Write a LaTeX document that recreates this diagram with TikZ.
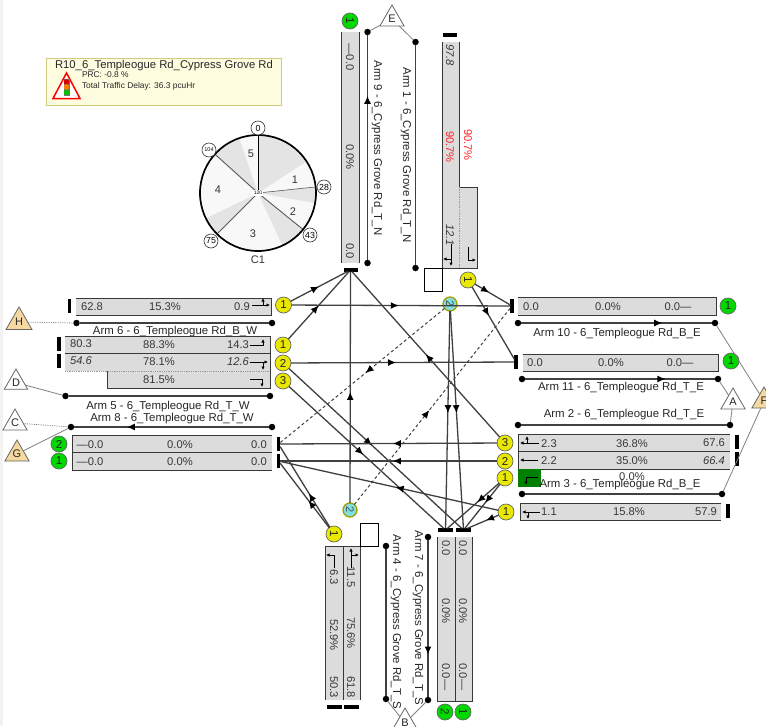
\documentclass[tikz,border=0pt]{standalone}
\usepackage{fontspec}
\setmainfont{Liberation Sans}
\usetikzlibrary{arrows.meta,decorations.markings,shapes.geometric}
\definecolor{ink}{HTML}{383838}
\definecolor{wire}{HTML}{404040}
\definecolor{lane}{HTML}{DCDCDC}
\definecolor{yel}{HTML}{E8E800}
\definecolor{grn}{HTML}{00D800}
\definecolor{cya}{HTML}{80E0E0}
\definecolor{tan}{HTML}{F5D9A0}
\definecolor{ltp}{HTML}{F8F8F8}
\definecolor{gyp}{HTML}{E4E4E4}
\tikzset{
 x=1pt,y=-1pt,
 tx/.style={inner sep=0,outer sep=0,text=ink,font=\fontsize{11.2}{12}\selectfont},
 txi/.style={tx,font=\fontsize{11.2}{12}\selectfont\itshape},
 txd/.style={tx,rotate=-90},
 txdi/.style={txi,rotate=-90},
 lbl/.style={inner sep=0,outer sep=0,text=black!85,font=\fontsize{11.4}{12}\selectfont},
 lbld/.style={lbl,rotate=-90},
 redt/.style={txd,text=red!85!white},
 edge/.style={draw=ink,line width=1pt},
 vbar/.style={fill=black,inner sep=0,outer sep=0,minimum width=3.2pt,minimum height=14pt},
 hbar/.style={fill=black,inner sep=0,outer sep=0,minimum width=14pt,minimum height=3.2pt},
 sig/.style={circle,draw=black!60,line width=.7pt,fill=#1,inner sep=0,outer sep=0,minimum size=16pt,font=\fontsize{11.5}{12}\selectfont,text=black!85},
 ysig/.style={sig=yel},
 gsig/.style={sig=grn},
 csig/.style={circle,draw=yel!70!black,line width=1.3pt,fill=cya,inner sep=0,outer sep=0,minimum size=14pt,font=\fontsize{11}{12}\selectfont,text=black!70},
 dotn/.style={circle,fill=black,inner sep=0,outer sep=0,minimum size=6.5pt},
 tri/.style={regular polygon,regular polygon sides=3,draw=black!60,line width=.8pt,inner sep=0,outer sep=0,minimum size=28pt,font=\fontsize{11}{12}\selectfont,text=black!85},
 wtri/.style={tri,fill=white},
 ttri/.style={tri,fill=tan},
 road/.style={draw=wire,line width=1.3pt},
 feed/.style={draw=black!50,line width=.8pt},
 conn/.style={draw=wire,line width=1.3pt},
 dconn/.style={conn,dash pattern=on 3pt off 2.5pt,line width=1pt},
 ar/.style={postaction={decorate,decoration={markings,mark=at position #1 with {\arrow[black,solid]{Latex[length=8pt,width=7pt]}}}}},
 tk/.style={draw=black,line width=.7pt,-{Latex[length=3.5pt,width=3.5pt]}},
 pcirc/.style={circle,draw=black!80,fill=white,line width=.6pt,inner sep=0,outer sep=0,minimum size=14pt,font=\fontsize{8.8}{10}\selectfont},
 pnum/.style={inner sep=0,outer sep=0,font=\fontsize{11}{12}\selectfont,text=black!80}
}
\begin{document}
\begin{tikzpicture}
\useasboundingbox (0,0) rectangle (766,726);
\clip (0,0) rectangle (766,726);
\fill[white] (0,0) rectangle (766,726);
\fill[black!5] (0,0) rectangle (3,726);

% info box
\draw[draw=black!35!yellow!60!white,fill=yellow!12,line width=.8pt] (46,58) rectangle (281,105);
\node[lbl,font=\fontsize{11.3}{13}\selectfont] (title) at (164,66) {R10\_6\_Templeogue Rd\_Cypress Grove Rd};
\node[lbl,anchor=west,font=\fontsize{8.4}{10}\selectfont] (prc) at (82,75) {PRC: -0.8 \%};
\node[lbl,anchor=west,font=\fontsize{8.4}{10}\selectfont] (delay) at (82,86.5) {Total Traffic Delay: 36.3 pcuHr};
\draw[red,line width=1.5pt,fill=white,line join=miter] (66.5,73) -- (80,98.5) -- (53,98.5) -- cycle;
\fill[black!55] (63.5,79) rectangle (69.5,96);
\fill[red!85!black] (66.5,82) circle (2.8pt);
\fill[orange] (66.5,87) circle (2.8pt);
\fill[green!75!black] (66.5,92.5) circle (2.8pt);

% phase clock
\def\Cx{258}\def\Cy{193}\def\Rr{58}
\fill[ltp] (\Cx,\Cy) circle (\Rr);
\foreach \a/\b in {0/57,84/100,129/155,225/244,312/341}{
 \fill[gyp] (\Cx,\Cy) -- plot[domain=\a:\b,samples=16] ({\Cx+\Rr*sin(\x)},{\Cy-\Rr*cos(\x)}) -- cycle;
}
\draw[black,line width=1pt] (\Cx,\Cy) -- ({\Cx+\Rr*sin(0)},{\Cy-\Rr*cos(0)});
\foreach \a/\w in {84/.6,129/.9,225/.9,312/.9}{
 \draw[black!65,line width=\w pt] (\Cx,\Cy) -- ({\Cx+\Rr*sin(\a)},{\Cy-\Rr*cos(\a)});
}
\draw[black,line width=1.7pt] (\Cx,\Cy) circle (\Rr);
\node[inner sep=1pt,fill=white,font=\fontsize{5}{6}\selectfont] (c120) at (\Cx,\Cy) {120};
\node[pcirc] (p0) at (258,128) {0};
\node[pcirc] (p28) at (324,187) {28};
\node[pcirc] (p43) at (310,235) {43};
\node[pcirc] (p75) at (211,241) {75};
\node[pcirc,font=\fontsize{5.5}{6}\selectfont] (p104) at (209,150) {104};
\node[pnum] (n5) at (251,154) {5};
\node[pnum] (n1) at (295,180) {1};
\node[pnum] (n2) at (293,212) {2};
\node[pnum] (n3) at (253,234) {3};
\node[pnum] (n4) at (218,190) {4};
\node[pnum] (c1) at (258,260) {C1};

% Arm 6 (west)
\fill[lane] (76,298) rectangle (271,315);
\draw[edge] (76,298) -- (271,298) -- (271,315) -- (76,315);
\node[vbar] (b6) at (69.5,306) {};
\node[tx] (a6a) at (92,307) {62.8};
\node[tx] (a6b) at (165,307) {15.3\%};
\node[tx] (a6c) at (242,307) {0.9};
\draw[tk] (252,305) -- (270,305);
\draw[tk] (263,305) -- (263,298);
\node[ysig] (w1a) at (283.5,305) {1};
\node[dotn] (d6l) at (76.5,323) {};
\node[dotn] (d6r) at (272,323) {};
\draw[road] (d6l) -- (d6r);
\node[lbl] (l6) at (175,332) {Arm 6 - 6\_Templeogue Rd\_B\_W};
\node[ttri,minimum size=30pt] (H) at (19,322) {H};
\draw[feed,densely dotted] (H) -- (d6l);

% Arm 5 (west)
\fill[lane] (65,336) rectangle (270,371);
\fill[lane] (107,371) rectangle (270,388);
\draw[edge] (65,336) -- (270,336) -- (270,388) -- (107,388) -- (107,371);
\draw[edge] (65,353) -- (270,353);
\draw[black!40,densely dotted,line width=.8pt] (65,371) -- (270,371);
\node[vbar] (b5a) at (59,344) {};
\node[vbar] (b5b) at (59,361) {};
\node[tx] (a5a) at (81,344) {80.3};
\node[tx] (a5b) at (159,345) {88.3\%};
\node[tx] (a5c) at (238,345) {14.3};
\node[txi] (a5d) at (81,361) {54.6};
\node[tx] (a5e) at (159,362) {78.1\%};
\node[txi] (a5f) at (238,362) {12.6};
\node[tx] (a5g) at (159,380) {81.5\%};
\draw[tk] (250,345) -- (263,345) -- (263,339);
\draw[tk] (250,362) -- (268,362);
\draw[tk] (263,362) -- (263,370);
\draw[tk] (250,379) -- (262,379) -- (262,387);
\node[ysig] (w1b) at (283,345) {1};
\node[ysig] (w2) at (283,363) {2};
\node[ysig] (w3) at (283,381) {3};
\node[dotn] (d5l) at (65.5,396) {};
\node[dotn] (d5r) at (270,396) {};
\draw[road] (d5l) -- (d5r);
\node[wtri,minimum size=27pt] (D) at (16,382.5) {D};
\draw[feed] (D) -- (d5l);
\node[lbl] (l5) at (168,407) {Arm 5 - 6\_Templeogue Rd\_T\_W};

% Arm 8 (west)
\node[lbl] (l8) at (172,419) {Arm 8 - 6\_Templeogue Rd\_T\_W};
\node[dotn] (d8l) at (71,427) {};
\node[dotn] (d8r) at (272,427) {};
\draw[road,ar=.73] (d8r) -- (d8l);
\node[wtri] (C) at (15,423) {C};
\node[ttri] (G) at (17,454) {G};
\draw[feed,densely dotted] (C) -- (d8l);
\draw[feed] (G) -- (d8l);
\fill[lane] (72,435) rectangle (272,470);
\draw[edge] (272,435) -- (72,435) -- (72,470) -- (272,470);
\draw[edge] (72,452) -- (272,452);
\node[gsig] (g2) at (59,444) {2};
\node[gsig] (g1) at (59,461) {1};
\node[tx] (a8a) at (90,444.5) {—0.0};
\node[tx] (a8b) at (180,444.5) {0.0\%};
\node[tx] (a8c) at (259,444.5) {0.0};
\node[tx] (a8d) at (90,461.5) {—0.0};
\node[tx] (a8e) at (180,461.5) {0.0\%};
\node[tx] (a8f) at (259,461.5) {0.0};
\node[vbar] (b8a) at (278.5,444) {};
\node[vbar] (b8b) at (278.5,461) {};

% Arm 9 (north)
\fill[lane] (341,32) rectangle (359,263);
\draw[edge] (341,32) -- (341,263);
\draw[edge] (359,32) -- (359,263);
\node[gsig,rotate=-90] (gn) at (350,21) {1};
\node[txd] (a9a) at (350,57) {—0.0};
\node[txd] (a9b) at (350,157) {0.0\%};
\node[txd] (a9c) at (350,251) {0.0};
\node[hbar] (bn) at (350.5,270) {};
\node[dotn] (d9t) at (367.5,32) {};
\node[dotn] (d9b) at (367.5,263) {};
\draw[road,ar=.73] (d9b) -- (d9t);
\node[lbld] (l9) at (377,148) {Arm 9 - 6\_Cypress Grove Rd\_T\_N};
\node[wtri] (E) at (392,19) {E};
\node[dotn] (d1t) at (415.5,42) {};
\node[dotn] (d1b) at (415.5,268) {};
\draw[road] (d1t) -- (d1b);
\draw[feed] (E) -- (d9t);
\draw[feed] (E) -- (d1t);
\node[lbld] (l1) at (406,155) {Arm 1 - 6\_Cypress Grove Rd\_T\_N};

% Arm 1 (north)
\fill[lane] (442,42) rectangle (459,268);
\fill[lane] (459,187) rectangle (477,268);
\draw[edge] (442,42) -- (442,268) -- (477,268) -- (477,187) -- (459,187) -- (459,42);
\draw[black!40,densely dotted,line width=.7pt] (459,187) -- (459,268);
\node[hbar] (b1) at (450,35) {};
\node[txdi] (a1a) at (450,55) {97.8};
\node[redt] (a1b) at (450,147) {90.7\%};
\node[redt] (a1c) at (468,145) {90.7\%};
\node[txdi] (a1d) at (450,235) {12.1};
\draw[tk] (451,244) -- (451,266);
\draw[tk] (451,259) -- (443,259);
\draw[tk] (468,247) -- (468,260) -- (476,260);
\draw[draw=black,line width=.9pt] (424,268) rectangle (442,291);
\node[ysig,rotate=-90] (n1) at (468,280) {1};
\node[csig,rotate=-90] (cn) at (450,304) {2};

% Arm 10, 11 (east)
\fill[lane] (518,297) rectangle (716,315);
\draw[edge] (518,297) -- (716,297) -- (716,315) -- (518,315);
\node[vbar] (b10) at (512,306) {};
\node[gsig] (g10) at (728,306) {1};
\node[tx] (a10a) at (531,306.5) {0.0};
\node[tx] (a10b) at (608,306.5) {0.0\%};
\node[tx] (a10c) at (678,306.5) {0.0—};
\node[dotn] (d10l) at (518,323) {};
\node[dotn] (d10r) at (715,323) {};
\draw[road,ar=.74] (d10l) -- (d10r);
\node[lbl] (l10) at (617,334) {Arm 10 - 6\_Templeogue Rd\_B\_E};
\fill[lane] (523,354) rectangle (718,371);
\draw[edge] (523,354) -- (718,354) -- (718,371) -- (523,371);
\node[vbar] (b11) at (516,362) {};
\node[gsig] (g11) at (731,361) {1};
\node[tx] (a11a) at (535,362.5) {0.0};
\node[tx] (a11b) at (611,362.5) {0.0\%};
\node[tx] (a11c) at (680,362.5) {0.0—};
\node[dotn] (d11l) at (522,379) {};
\node[dotn] (d11r) at (718,379) {};
\draw[road,ar=.74] (d11l) -- (d11r);
\node[lbl] (l11) at (621,388) {Arm 11 - 6\_Templeogue Rd\_T\_E};

% Arm 2, 3 (east)
\node[wtri] (A) at (733,402) {A};
\node[ttri] (F) at (764,401) {F};
\node[lbl] (l2) at (624,415) {Arm 2 - 6\_Templeogue Rd\_T\_E};
\node[dotn] (d2l) at (518,425) {};
\node[dotn] (d2r) at (730,425) {};
\draw[road] (d2l) -- (d2r);
\draw[feed] (d11r) -- (A);
\draw[feed] (A) -- (d2r);
\draw[feed] (d10r) -- (F);
\fill[lane] (518,434) rectangle (730,469);
\draw[edge] (730,434) -- (518,434) -- (518,469) -- (730,469);
\draw[edge] (518,451) -- (730,451);
\fill[green!50!black] (518,469) rectangle (541,487);
\node[vbar] (b2a) at (737,442) {};
\node[vbar] (b2b) at (737,459) {};
\node[tx] (a2a) at (549,443.5) {2.3};
\node[tx] (a2b) at (632,443.5) {36.8\%};
\node[tx] (a2c) at (714,443) {67.6};
\node[tx] (a2d) at (549,461) {2.2};
\node[tx] (a2e) at (632,460.5) {35.0\%};
\node[txi] (a2f) at (714,460.5) {66.4};
\node[tx] (a2g) at (632,477) {0.0\%};
\draw[tk] (539,443) -- (520,443);
\draw[tk] (527,443) -- (527,436);
\draw[tk] (538,460) -- (520,460);
\draw[tk] (538,477) -- (526,477) -- (526,485);
\node[lbl] (l3) at (620,485) {Arm 3 - 6\_Templeogue Rd\_B\_E};
\node[dotn] (d3l) at (522,494) {};
\node[dotn] (d3r) at (722,494) {};
\draw[road] (d3l) -- (d3r);
\draw[feed] (F) -- (d3r);
\fill[lane] (520,503) rectangle (721,520);
\draw[edge] (721,503) -- (520,503) -- (520,520) -- (721,520);
\node[vbar] (b3) at (728,511) {};
\node[tx] (a3a) at (549,512) {1.1};
\node[tx] (a3b) at (629,512) {15.8\%};
\node[tx] (a3c) at (706,512) {57.9};
\draw[tk] (540,512) -- (522,512);
\draw[tk] (528,512) -- (528,519);
\node[ysig] (e3) at (505,443) {3};
\node[ysig] (e2) at (505,461) {2};
\node[ysig] (e1a) at (505,478) {1};
\node[ysig] (e1b) at (506,512) {1};

% Arm 4 (south)
\fill[lane] (325,546) rectangle (360,700);
\draw[edge] (325,700) -- (325,546) -- (360,546) -- (360,700);
\draw[edge] (343,546) -- (343,700);
\node[hbar,minimum width=15pt] (b4a) at (334.5,707) {};
\node[hbar,minimum width=15pt] (b4b) at (351.5,707) {};
\node[txd] (a4a) at (334,577) {6.3};
\node[txd] (a4b) at (334,635) {52.9\%};
\node[txd] (a4c) at (334,687) {50.3};
\node[txd] (a4d) at (351,577) {11.5};
\node[txd] (a4e) at (351,633) {75.6\%};
\node[txd] (a4f) at (351,687) {61.8};
\draw[tk] (334,568) -- (334,555) -- (326,555);
\draw[tk] (351,568) -- (351,548);
\draw[tk] (351,555) -- (359,555);
\draw[draw=black,line width=.9pt] (360,523) rectangle (378,546);
\node[ysig,rotate=-90] (s1) at (334,534) {1};
\node[csig,rotate=-90] (cs) at (350,510) {2};
\node[dotn] (d4t) at (386,546) {};
\node[dotn] (d4b) at (386,699) {};
\draw[road] (d4t) -- (d4b);
\node[lbld] (l4) at (396,622) {Arm 4 - 6\_Cypress Grove Rd\_T\_S};

% Arm 7 (south)
\node[lbld] (l7) at (418,618) {Arm 7 - 6\_Cypress Grove Rd\_T\_S};
\node[dotn] (d7t) at (428,537) {};
\node[dotn] (d7b) at (428,700) {};
\draw[road,ar=.73] (d7t) -- (d7b);
\fill[lane] (437,537) rectangle (472,701);
\draw[edge] (437,537) -- (437,701) -- (472,701) -- (472,537);
\draw[edge] (455,537) -- (455,701);
\node[hbar,minimum width=15pt] (b7a) at (445.5,530) {};
\node[hbar,minimum width=15pt] (b7b) at (463.5,530) {};
\node[txd] (a7a) at (446,548) {0.0};
\node[txd] (a7b) at (446,611) {0.0\%};
\node[txd] (a7c) at (446,677) {0.0—};
\node[txd] (a7d) at (463,548) {0.0};
\node[txd] (a7e) at (463,611) {0.0\%};
\node[txd] (a7f) at (463,677) {0.0—};
\node[gsig,rotate=-90] (gs2) at (445,712) {2};
\node[gsig,rotate=-90] (gs1) at (463,712) {1};
\node[wtri,minimum size=30pt] (B) at (405,723) {B};
\draw[feed] (d4b) -- (B);
\draw[feed] (d7b) -- (B);

% connectors through the junction
\draw[conn,ar=.5] (w1a) -- (bn);
\draw[conn,ar=.5] (w1b) -- (bn);
\draw[conn,ar=.49] (w1a) -- (b10);
\draw[conn,ar=.47] (w2) -- (b11);
\draw[conn,ar=.48] (w2) -- (b7b);
\draw[conn,ar=.48] (w3) -- (b7a);
\draw[conn,ar=.5] (e3) -- (bn);
\draw[conn,ar=.48] (cs) -- (bn);
\draw[dconn,ar=.48] (cs) -- (b10);
\draw[dconn,ar=.48] (cn) -- (b8a);
\draw[conn,ar=.47] (cn) -- (b7a);
\draw[conn,ar=.47] (cn) -- (b7b);
\draw[conn,ar=.4] (n1) -- (b10);
\draw[conn,ar=.4] (n1) -- (b11);
\draw[conn,ar=.48] (e3) -- (b8a);
\draw[conn,ar=.48] (e2) -- (b8b);
\draw[conn,ar=.47] (e1b) -- (b8b);
\draw[conn,ar=.42] (e1a) -- (b7a);
\draw[conn,ar=.42] (e1a) -- (b7b);
\draw[conn,ar=.4] (e1b) -- (b7b);
\draw[conn,ar=.42] (s1) -- (b8a);
\draw[conn,ar=.42] (s1) -- (b8b);
\end{tikzpicture}
\end{document}
